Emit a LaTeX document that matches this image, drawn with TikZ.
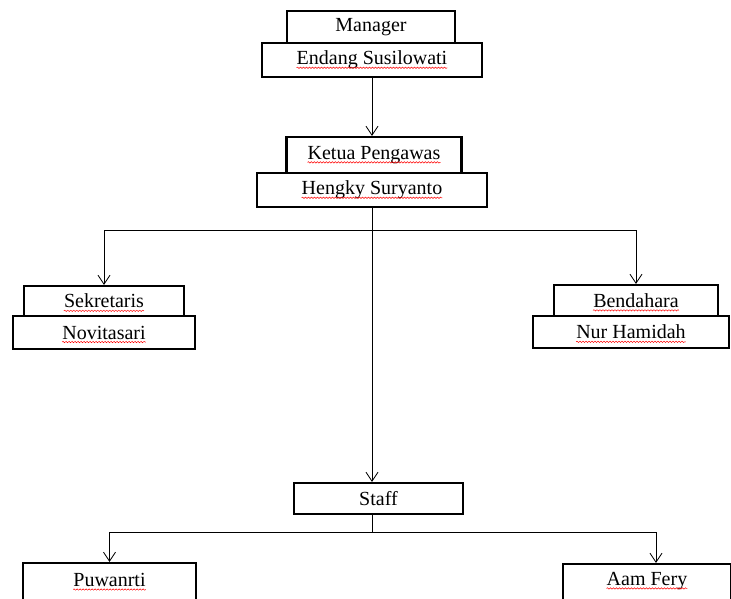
\documentclass[tikz,border=0pt]{standalone}
\usepackage{fontspec}
\setmainfont{Liberation Serif}
\usetikzlibrary{arrows.meta,decorations.pathmorphing}
\tikzset{
  kotak/.style={draw,rectangle,line width=2.2pt,inner sep=0pt,font=\fontsize{20}{22}\selectfont},
  nama/.style={inner sep=0pt,font=\fontsize{20}{22}\selectfont},
  gelombang/.style={red,line width=0.5pt,decorate,decoration={snake,amplitude=0.7pt,segment length=3pt}},
  panah/.style={line width=0.8pt,-{Straight Barb[length=9pt,width=12pt]}}
}
\begin{document}
\begin{tikzpicture}[x=1pt,y=-1pt]
\clip (0,0) rectangle (731,598);
% pimpinan
\node[kotak,minimum width=168pt,minimum height=32pt] (manager) at (371,27) {Manager};
\node[kotak,minimum width=220pt,minimum height=34pt] (endang) at (372,60) {};
\node[nama] (endangt) at (endang) {Endang Susilowati};
\node[kotak,minimum width=175pt,minimum height=36pt] (ketua) at (374,155) {};
\node[nama] (ketuat) at (ketua) {Ketua Pengawas};
\node[kotak,minimum width=230pt,minimum height=34pt] (hengky) at (372,190) {};
\node[nama] (hengkyt) at (hengky) {Hengky Suryanto};
% sekretaris dan bendahara
\node[kotak,minimum width=160pt,minimum height=30pt] (sekretaris) at (104,301) {};
\node[nama] (sekretarist) at (sekretaris) {Sekretaris};
\node[kotak,minimum width=182pt,minimum height=33pt] (novita) at (104,332.5) {};
\node[nama] (novitat) at (novita) {Novitasari};
\node[kotak,minimum width=164pt,minimum height=31pt] (bendahara) at (636,300.5) {};
\node[nama] (bendaharat) at (bendahara) {Bendahara};
\node[kotak,minimum width=196pt,minimum height=32pt] (nur) at (631,332) {};
\node[nama] (nurt) at (nur) {Nur Hamidah};
% staff
\node[kotak,minimum width=169pt,minimum height=31pt] (staff) at (378.5,498.5) {Staff};
\node[kotak,minimum width=173pt,minimum height=38pt] (puwanrti) at (109.5,582) {};
\node[nama] (puwanrtit) at (109.5,580) {Puwanrti};
\node[kotak,minimum width=168pt,minimum height=38pt] (aam) at (647,583) {};
\node[nama] (aamt) at (647,581) {Aam Fery};
% garis merah
\foreach \n in {endangt,ketuat,hengkyt,sekretarist,novitat,bendaharat,nurt,puwanrtit,aamt}
  \draw[gelombang] ([yshift=-3pt]\n.base west) -- ([yshift=-3pt]\n.base east);
% garis penghubung
\draw[panah] (endang.south) -- (endang.south |- ketua.north);
\coordinate (cabang) at (372,230);
\draw[panah] (cabang) -| (sekretaris.north);
\draw[panah] (cabang) -| (bendahara.north);
\draw[panah] (hengky.south) -- (hengky.south |- staff.north);
\coordinate (cabangb) at (372,532);
\draw (hengky.south |- staff.south) -- (cabangb);
\draw[panah] (cabangb) -| (puwanrti.north);
\draw[panah] (cabangb) -| ([xshift=9pt]aam.north);
\end{tikzpicture}
\end{document}
